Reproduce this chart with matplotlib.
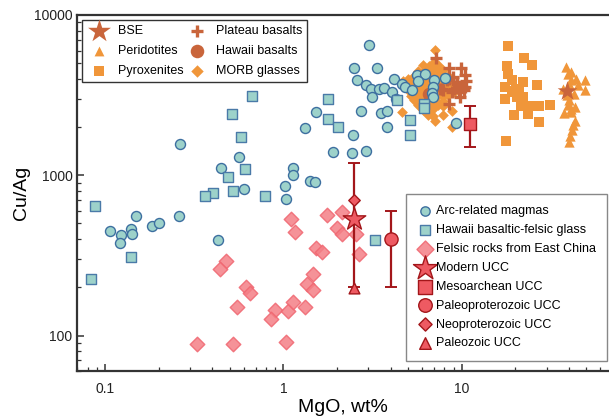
import matplotlib.pyplot as plt
from matplotlib.ticker import FuncFormatter, NullFormatter, LogLocator

plt.rcParams['font.family'] = ['Liberation Sans', 'DejaVu Sans']

# ---- data (MgO wt%, Cu/Ag) ----
# Arc-related magmas
arc_mgo = [0.264, 0.107, 0.123, 0.122, 0.140, 0.141, 0.150, 0.183, 0.201, 0.26,
           0.43, 0.45, 0.567, 0.60, 1.02, 1.04, 1.13, 1.13, 1.41, 1.50,
           1.33, 1.52, 1.91, 2.43, 2.91, 2.45, 2.72, 3.54, 3.83, 3.83,
           3.04, 2.50, 3.36, 2.60, 2.91, 3.11, 3.16, 3.42, 3.69, 4.06,
           4.30, 4.20, 4.61, 4.80, 5.25, 5.60, 6.19, 5.68, 6.97, 6.90,
           6.82, 6.93, 8.02, 9.31]
arc_cuag = [1576, 450, 421, 377, 461, 431, 560, 483, 504, 558,
            394, 1117, 1300, 826, 858, 709, 1110, 1000, 918, 908,
            1983, 2494, 1400, 1385, 1425, 1780, 2530, 2451, 2523, 2000,
            6500, 4662, 4680, 3953, 3674, 3430, 3062, 3434, 3494, 3313,
            2988, 3981, 3727, 3549, 3400, 4241, 4259, 3890, 3908, 3549,
            3257, 3075, 4038, 2123]

# Hawaii basaltic-felsic glass
hgl_mgo = [0.665, 0.513, 0.579, 0.61, 0.49, 0.525, 0.403, 0.366, 0.79, 0.088,
           0.140, 0.084, 1.79, 1.79, 2.02, 4.35, 5.10, 5.12, 6.12, 6.12, 3.27]
hgl_cuag = [3119, 2399, 1742, 1095, 981, 795, 780, 737, 747, 641,
            310, 224, 3006, 2233, 2000, 2963, 2201, 1788, 2770, 2615, 394]

# Felsic rocks from East China
fel_mgo = [1.10, 1.16, 0.48, 0.44, 0.62, 0.65, 0.55, 0.90, 0.85, 1.06,
           1.14, 1.32, 1.36, 1.47, 1.47, 1.52, 1.65, 1.75, 2.14, 1.99,
           2.14, 2.55, 2.67, 1.04, 0.52, 0.33]
fel_cuag = [536, 443, 291, 260, 201, 183, 151, 145, 127, 142,
            162, 150, 209, 192, 242, 351, 330, 563, 586, 466,
            432, 432, 323, 91, 88, 89]

# MORB glasses
morb_mgo = [7.1, 4.6, 7.1, 7.9, 8.8, 8.8,
            6.1, 6.6, 7.4, 6.9,
            5.7, 6.2, 6.5, 7.0, 7.5, 7.9,
            5.4, 5.8, 6.1, 6.6, 6.9, 7.4, 7.8, 8.4,
            4.7, 5.0, 5.4, 5.7, 6.2, 6.5, 6.9, 7.3, 7.9, 8.4,
            4.9, 5.3, 5.7, 6.1, 6.5, 6.9, 7.4, 7.9, 8.3, 9.0,
            5.0, 5.4, 5.8, 6.1, 6.5, 7.0, 7.4, 7.9, 8.5, 9.1,
            5.2, 5.7, 6.0, 6.5, 6.9, 7.4, 7.9, 8.4,
            5.4, 5.8, 6.1, 6.6, 6.9, 7.3, 7.9,
            5.7, 6.1, 6.5, 6.9, 7.4, 7.9,
            6.1, 6.5, 6.9, 6.5, 6.9]
morb_cuag = [6050, 2480, 2170, 2380, 1990, 2500,
             4850, 4780, 4900, 5000,
             4500, 4550, 4420, 4600, 4480, 4520,
             4150, 4250, 4180, 4300, 4120, 4220, 4280, 4150,
             3900, 3980, 3850, 3950, 3880, 4000, 3920, 3850, 3960, 3870,
             3620, 3700, 3600, 3680, 3580, 3700, 3650, 3560, 3690, 3620,
             3400, 3330, 3420, 3350, 3440, 3380, 3300, 3420, 3360, 3300,
             3120, 3180, 3100, 3200, 3130, 3170, 3100, 3150,
             2950, 2880, 2980, 2900, 2960, 2870, 2920,
             2750, 2700, 2760, 2680, 2740, 2700,
             2560, 2500, 2580, 2380, 2340]

# Plateau basalts
plt_mgo = [7.2, 8.5, 9.9, 10.5, 8.9, 9.4, 10.1, 9.0, 9.8, 8.5,
           10.5, 7.9, 7.6, 8.3, 9.4, 7.8, 10.3, 8.8, 8.5, 9.6, 10.6]
plt_cuag = [5400, 4640, 4690, 4200, 4080, 3800, 3530, 3470, 3080, 2770,
            3530, 3390, 3470, 3910, 3730, 3470, 3390, 3300, 3960, 3290, 3900]

# Hawaii basalts
hba_mgo = [6.57]
hba_cuag = [3228]

# Pyroxenites
pyx_mgo = [18.3, 22.3, 24.9, 18.0, 18.3, 19.1, 22.0, 26.6, 17.5, 19.6,
           21.0, 22.2, 20.3, 17.5, 21.4, 24.1, 27.3, 31.1, 19.6, 23.4,
           27.1, 17.8, 20.8, 20.1, 19.1]
pyx_cuag = [6390, 5380, 4870, 4800, 4300, 3910, 3810, 3650, 3550, 3340,
            3390, 3075, 3075, 2975, 2700, 2700, 2700, 2730, 2375, 2420,
            2150, 1640, 3230, 3470, 3300]

# Peridotites
per_mgo = [38.7, 40.9, 39.3, 43.7, 40.9, 49.1, 49.3, 40.1, 44.7, 36.8,
           42.7, 40.1, 39.3, 40.9, 43.1, 37.6, 40.9, 43.1, 41.9, 41.3,
           40.6, 40.1, 39.5, 38.9]
per_cuag = [4730, 4400, 4300, 4000, 3910, 3950, 3420, 3730, 3640, 3470,
            3230, 2930, 2730, 2600, 2665, 2440, 2480, 2180, 2050, 1910,
            1750, 1610, 3385, 3150]

# BSE
bse_mgo = [38.9]
bse_cuag = [3340]

# UCC estimates
modern_mgo, modern_cuag = [2.5], [530]
modern_lo, modern_hi = [200], [1200]
meso_mgo, meso_cuag = [11.1], [2100]
meso_lo, meso_hi = [1500], [2700]
paleop_mgo, paleop_cuag = [4.0], [400]
paleop_lo, paleop_hi = [200], [600]
neop_mgo, neop_cuag = [2.5], [700]
paleoz_mgo, paleoz_cuag = [2.5], [197]

orange = '#f0963a'
brown = '#c9653b'
teal = '#9dd2ca'
ucc_fill = '#ee5a62'
ucc_edge = '#a3161a'

fig = plt.figure(figsize=(6.09, 4.16), dpi=100)
ax = fig.add_axes([0.127, 0.108, 0.873, 0.856])
ax.set_xscale('log')
ax.set_yscale('log')

h_morb = ax.scatter(morb_mgo, morb_cuag, marker='D', s=30, color=orange, lw=0, zorder=2, label='MORB glasses')
h_plt = ax.scatter(plt_mgo, plt_cuag, marker='+', s=80, color=brown, lw=2.4, zorder=3, label='Plateau basalts')
h_hba = ax.scatter(hba_mgo, hba_cuag, marker='o', s=95, color=brown, lw=0, zorder=3, label='Hawaii basalts')
h_pyx = ax.scatter(pyx_mgo, pyx_cuag, marker='s', s=45, color=orange, lw=0, zorder=2, label='Pyroxenites')
h_per = ax.scatter(per_mgo, per_cuag, marker='^', s=55, color=orange, lw=0, zorder=2, label='Peridotites')
h_bse = ax.scatter(bse_mgo, bse_cuag, marker='*', s=220, color=brown, lw=0, zorder=4, label='BSE')

h_arc = ax.scatter(arc_mgo, arc_cuag, marker='o', s=52, facecolor=teal, edgecolor='#3d6fa0', lw=1.0, zorder=5, label='Arc-related magmas')
h_hgl = ax.scatter(hgl_mgo, hgl_cuag, marker='s', s=50, facecolor=teal, edgecolor='#4a7aa8', lw=1.0, zorder=5, label='Hawaii basaltic-felsic glass')
h_fel = ax.scatter(fel_mgo, fel_cuag, marker='D', s=55, facecolor='#f47f86', edgecolor='#f06670', lw=1.0, alpha=0.85, zorder=5, label='Felsic rocks from East China')

# error bars of the UCC estimates
for xs, ys, lo, hi in [(modern_mgo, modern_cuag, modern_lo, modern_hi),
                       (meso_mgo, meso_cuag, meso_lo, meso_hi),
                       (paleop_mgo, paleop_cuag, paleop_lo, paleop_hi)]:
    ax.errorbar(xs, ys, yerr=[[y - l for y, l in zip(ys, lo)], [h - y for y, h in zip(ys, hi)]],
                fmt='none', ecolor=ucc_edge, elinewidth=1.6, capsize=4.5, capthick=1.4, zorder=6)

h_mod = ax.scatter(modern_mgo, modern_cuag, marker='*', s=290, facecolor=ucc_fill, edgecolor=ucc_edge, lw=1.0, zorder=8, label='Modern UCC')
h_mes = ax.scatter(meso_mgo, meso_cuag, marker='s', s=85, facecolor=ucc_fill, edgecolor=ucc_edge, lw=1.0, zorder=8, label='Mesoarchean UCC')
h_pp = ax.scatter(paleop_mgo, paleop_cuag, marker='o', s=90, facecolor=ucc_fill, edgecolor=ucc_edge, lw=1.0, zorder=8, label='Paleoproterozoic UCC')
h_np = ax.scatter(neop_mgo, neop_cuag, marker='D', s=34, facecolor=ucc_fill, edgecolor=ucc_edge, lw=1.0, zorder=8, label='Neoproterozoic UCC')
h_pz = ax.scatter(paleoz_mgo, paleoz_cuag, marker='^', s=60, facecolor=ucc_fill, edgecolor=ucc_edge, lw=1.0, zorder=8, label='Paleozoic UCC')

ax.set_xlim(0.07, 67)
ax.set_ylim(60, 10000)

fmt = FuncFormatter(lambda v, p: f'{v:g}')
ax.xaxis.set_major_formatter(fmt)
ax.yaxis.set_major_formatter(fmt)
ax.xaxis.set_minor_formatter(NullFormatter())
ax.yaxis.set_minor_formatter(NullFormatter())
ax.xaxis.set_minor_locator(LogLocator(base=10, subs=range(2, 10), numticks=20))
ax.yaxis.set_minor_locator(LogLocator(base=10, subs=range(2, 10), numticks=20))

ax.tick_params(which='both', direction='in', top=False, right=False, colors='#333333', labelcolor='#222222')
ax.tick_params(which='major', length=5, width=1.1, labelsize=10)
ax.tick_params(axis='x', which='major', pad=8)
ax.tick_params(which='minor', length=3.2, width=0.9)

for side in ['left', 'bottom', 'top']:
    ax.spines[side].set_color('#333333')
    ax.spines[side].set_linewidth(1.6)
ax.spines['right'].set_visible(False)

ax.set_xlabel('MgO, wt%', fontsize=14, labelpad=2)
ax.set_ylabel('Cu/Ag', fontsize=14, labelpad=3)

leg1 = ax.legend(handles=[h_bse, h_per, h_pyx, h_plt, h_hba, h_morb], ncol=2, fontsize=9,
                 loc='upper left', bbox_to_anchor=(0.008, 0.986), borderaxespad=0,
                 fancybox=False, edgecolor='#333333', framealpha=1, handlelength=2.0,
                 handletextpad=0.5, labelspacing=0.66, columnspacing=0.1, borderpad=0.4)
leg1.get_frame().set_linewidth(1.0)
for hd, sz in zip(leg1.legend_handles, [300, 50, 50, 80, 95, 40]):
    hd.set_sizes([sz])
ax.add_artist(leg1)

leg2 = ax.legend(handles=[h_arc, h_hgl, h_fel, h_mod, h_mes, h_pp, h_np, h_pz], fontsize=9,
                 loc='lower right', bbox_to_anchor=(0.996, 0.029), borderaxespad=0,
                 fancybox=False, edgecolor='#888888', framealpha=1, handlelength=1.3,
                 handletextpad=0.2, labelspacing=0.55, borderpad=0.9)
leg2.get_frame().set_linewidth(1.0)
for hd, sz in zip(leg2.legend_handles, [45, 45, 75, 330, 95, 95, 45, 70]):
    hd.set_sizes([sz])
leg2.set_zorder(10)

fig.savefig('out.png', dpi=100)
